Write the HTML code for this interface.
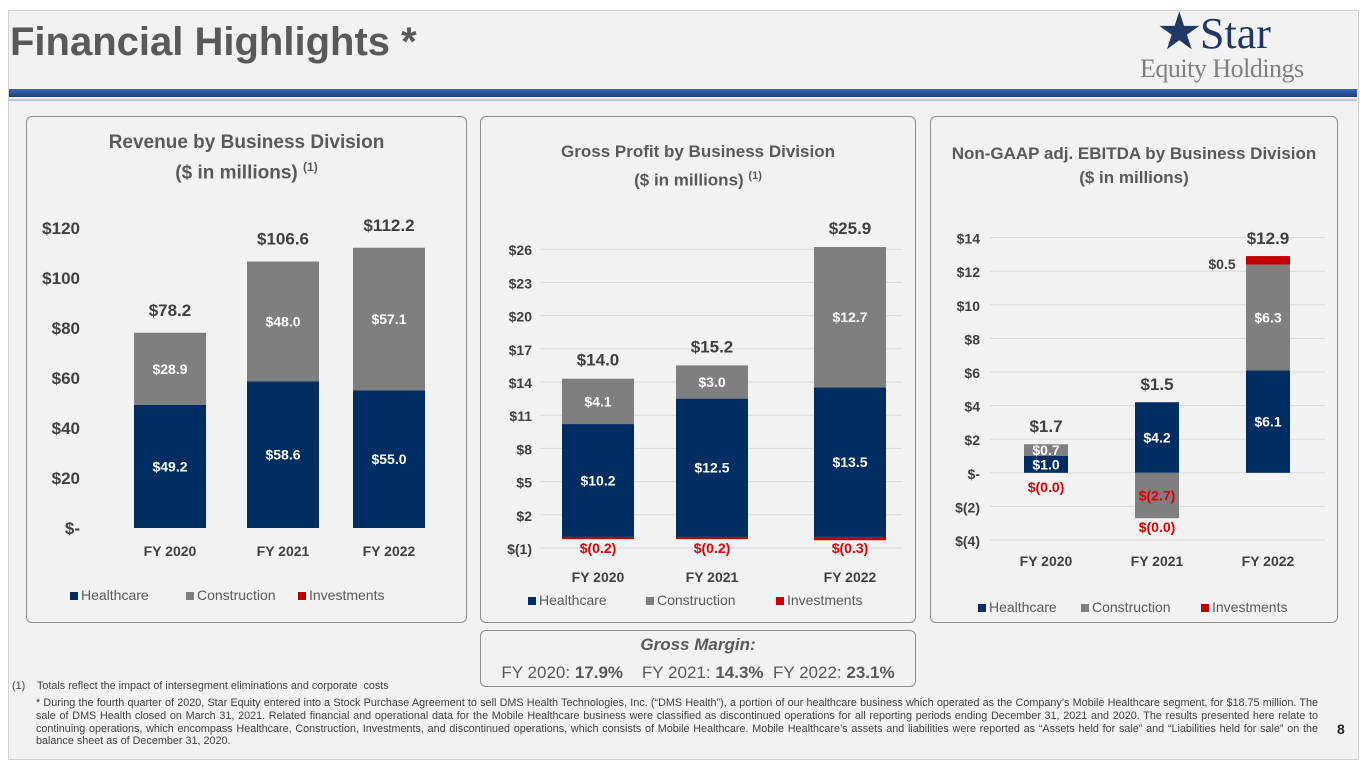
<!DOCTYPE html>
<html><head><meta charset="utf-8">
<style>
body{margin:0;width:1365px;height:768px;background:#fff;font-family:"Liberation Sans",sans-serif;overflow:hidden;position:relative}
#slide{position:absolute;left:8px;top:10px;width:1349px;height:748px;background:#f2f2f2;border:1px solid #d0d0d0}
.t{position:absolute;white-space:nowrap}
.panel{position:absolute;border:1.5px solid #8c8c8c;border-radius:6px;background:#f2f2f2}
.ptitle{position:absolute;width:100%;text-align:center;font-weight:bold;color:#595959;font-size:18px;line-height:24px}
svg{position:absolute;left:0;top:0}
.fn{position:absolute;font-family:"Liberation Sans Narrow","Liberation Sans",sans-serif;font-size:10.8px;color:#404040;line-height:12.8px}
</style></head><body>
<div id="slide"></div>
<div class="t" style="left:10px;top:20px;font-size:40px;font-weight:bold;color:#595959">Financial Highlights *</div>
<div style="position:absolute;left:1150px;top:14px;width:200px;height:70px">
  <div class="t" style="left:6px;top:-12px;font-size:52px;color:#1f3864">★</div>
  <div class="t" style="left:50px;top:-4px;font-family:'Liberation Serif',serif;font-size:44px;color:#1f3864;line-height:48px">Star</div>
  <div class="t" style="left:-10px;top:40px;font-family:'Liberation Serif',serif;font-size:26px;color:#808080;letter-spacing:-0.5px">Equity Holdings</div>
</div>
<div style="position:absolute;left:9px;top:89px;width:1348px;height:8px;background:linear-gradient(#3a64b0,#1f3f80)"></div>
<div style="position:absolute;left:9px;top:99px;width:1348px;height:2px;background:#b8c7dc"></div>

<div class="panel" style="left:26px;top:116px;width:439px;height:505px">
  <div class="ptitle" style="top:13px;font-size:19px;line-height:25px">Revenue by Business Division<br>($ in millions) <sup style="font-size:12px">(1)</sup></div>
</div>
<div class="panel" style="left:480px;top:116px;width:434px;height:505px">
  <div class="ptitle" style="top:23px;font-size:17px">Gross Profit by Business Division<br>($ in millions) <sup style="font-size:11px">(1)</sup></div>
</div>
<div class="panel" style="left:930px;top:116px;width:406px;height:505px">
  <div class="ptitle" style="top:25px;font-size:17px">Non-GAAP adj. EBITDA by Business Division<br>($ in millions)</div>
</div>
<div class="panel" style="left:480px;top:630px;width:434px;height:55px">
  <div class="t" style="left:0;width:434px;text-align:center;top:4px;font-size:17px;font-weight:bold;font-style:italic;color:#595959">Gross Margin:</div>
  <div class="t" style="left:0;width:434px;text-align:center;top:32px;font-size:17px;color:#595959">FY 2020: <b>17.9%</b>&nbsp;&nbsp;&nbsp; FY 2021: <b>14.3%</b>&nbsp; FY 2022: <b>23.1%</b></div>
</div>

<svg id="chart" width="1365" height="768"></svg>

<div class="fn" style="left:12px;top:680px">(1)&nbsp;&nbsp;&nbsp; Totals reflect the impact of intersegment eliminations and corporate&nbsp; costs</div>
<div class="fn" style="left:36px;top:697px;width:1282px;text-align:justify">* During the fourth quarter of 2020, Star Equity entered into a Stock Purchase Agreement to sell DMS Health Technologies, Inc. (“DMS Health”), a portion of our healthcare business which operated as the Company’s Mobile Healthcare segment, for $18.75 million. The sale of DMS Health closed on March 31, 2021. Related financial and operational data for the Mobile Healthcare business were classified as discontinued operations for all reporting periods ending December 31, 2021 and 2020. The results presented here relate to continuing operations, which encompass Healthcare, Construction, Investments, and discontinued operations, which consists of Mobile Healthcare. Mobile Healthcare’s assets and liabilities were reported as “Assets held for sale” and “Liabilities held for sale” on the balance sheet as of December 31, 2020.</div>
<div class="t" style="left:1337px;top:721px;font-size:14px;font-weight:bold;color:#262626">8</div>

<script>
const categories = ["FY 2020","FY 2021","FY 2022"];
const revHealth = [49.2,58.6,55.0];
const revConst = [28.9,48.0,57.1];
const revInv = [0,0,0];
const revTotals = ["$78.2","$106.6","$112.2"];
const revTicks = [0,20,40,60,80,100,120];
const revTickLabels = ["$-","$20","$40","$60","$80","$100","$120"];

const gpHealth = [10.2,12.5,13.5];
const gpConst = [4.1,3.0,12.7];
const gpInv = [-0.2,-0.2,-0.3];
const gpInvText = ["$(0.2)","$(0.2)","$(0.3)"];
const gpTotals = ["$14.0","$15.2","$25.9"];
const gpTicks = [-1,2,5,8,11,14,17,20,23,26];
const gpTickLabels = ["$(1)","$2","$5","$8","$11","$14","$17","$20","$23","$26"];

const ebHealth = [1.0,4.2,6.1];
const ebConst = [0.7,-2.7,6.3];
const ebInv = [0.0,0.0,0.5];
const ebInvText = ["$(0.0)","$(0.0)","$0.5"];
const ebTotals = ["$1.7","$1.5","$12.9"];
const ebTicks = [-4,-2,0,2,4,6,8,10,12,14];
const ebTickLabels = ["$(4)","$(2)","$-","$2","$4","$6","$8","$10","$12","$14"];

const NAVY="#002d62", GRAY="#7f7f7f", RED="#c00000", TXT="#404040";
const svg=document.getElementById('chart');
const NS="http://www.w3.org/2000/svg";
function mk(tag,attrs,name,text){
  const e=document.createElementNS(NS,tag);
  for(const k in attrs) e.setAttribute(k,attrs[k]);
  
  
  if(text!==undefined) e.textContent=text;
  svg.appendChild(e); return e;
}
function fmt(v){return v<0?"$("+Math.abs(v).toFixed(1)+")":"$"+v.toFixed(1);}

function drawChart(cfg){
  const y=v=>cfg.y0-(v-cfg.vmin)*cfg.ppu;
  cfg.ticks.forEach((t,i)=>{
    if(cfg.grid) mk('line',{x1:cfg.gx1,x2:cfg.gx2,y1:y(t),y2:y(t),stroke:'#d9d9d9','stroke-width':1},cfg.id+'-gridline');
    mk('text',{x:cfg.lx,y:y(t)+6,'text-anchor':'end','font-size':cfg.tfs,'font-weight':'bold',fill:TXT},cfg.id+'-y-tick',cfg.tickLabels[i]);
  });
  categories.forEach((c,i)=>{
    const cx=cfg.cx[i], w=cfg.bw, x=cx-w/2;
    const h=cfg.health[i], co=cfg.cons[i], inv=cfg.inv[i];
    mk('rect',{x:x,y:Math.min(y(0),y(h)),width:w,height:Math.abs(y(h)-y(0)),fill:NAVY},cfg.id+'-bar-healthcare');
    let base= co>=0 ? Math.max(h,0) : Math.min(h,0);
    mk('rect',{x:x,y:Math.min(y(base),y(base+co)),width:w,height:Math.abs(y(base+co)-y(base)),fill:GRAY},cfg.id+'-bar-construction');
    let top=Math.max(h,0)+Math.max(co,0);
    let bot=Math.min(h,0)+Math.min(co,0);
    if(inv>0){
      mk('rect',{x:x,y:y(top+inv),width:w,height:y(top)-y(top+inv),fill:RED},cfg.id+'-bar-investments');
    } else if(inv<0){
      mk('rect',{x:x,y:y(bot),width:w,height:Math.max(2,y(bot+inv)-y(bot)),fill:RED},cfg.id+'-bar-investments');
    }
    const fs=cfg.vfs;
    if(h!==0) mk('text',{x:cx,y:(y(0)+y(h))/2+fs*0.35,'text-anchor':'middle','font-size':fs,'font-weight':'bold',fill:'#fff'},cfg.id+'-label-healthcare',fmt(h));
    if(co!==0) mk('text',{x:cx,y:(y(base)+y(base+co))/2+fs*0.35,'text-anchor':'middle','font-size':fs,'font-weight':'bold',fill:co<0?'#e00000':'#fff'},cfg.id+'-label-construction',fmt(co));
    if(cfg.invLabels){
      const il=cfg.invLabels[i];
      mk('text',{x:il[0]??cx,y:il[1],'text-anchor':'middle','font-size':fs,'font-weight':'bold',fill:il[2]||'#e00000'},cfg.id+'-label-investments',cfg.invText[i]);
    }
    mk('text',{x:cx,y:y(cfg.totalsAt(i))-cfg.totOff,'text-anchor':'middle','font-size':cfg.totfs,'font-weight':'bold',fill:TXT},cfg.id+'-total-label',cfg.totals[i]);
    mk('text',{x:cx,y:cfg.catY,'text-anchor':'middle','font-size':14,'font-weight':'bold',fill:TXT},cfg.id+'-x-label',c);
  });
  const items=[["Healthcare",NAVY],["Construction",GRAY],["Investments",RED]];
  let lx=cfg.legX;
  items.forEach((it,k)=>{
    mk('rect',{x:lx,y:cfg.legY-8,width:8,height:8,fill:it[1]},cfg.id+'-legend-swatch');
    mk('text',{x:lx+11,y:cfg.legY,'font-size':14,fill:'#595959'},cfg.id+'-legend-entry',it[0]);
    lx+=cfg.legGap[k];
  });
}

drawChart({id:'revenue',ticks:revTicks,tickLabels:revTickLabels,vmin:0,y0:528,ppu:2.5,grid:false,lx:80,tfs:17,
  cx:[170,283,389],bw:72,health:revHealth,cons:revConst,inv:revInv,totals:revTotals,vfs:14,totfs:17,totOff:17,
  totalsAt:i=>revHealth[i]+revConst[i],catY:556,legX:70,legY:600,legGap:[116,112]});

drawChart({id:'gross-profit',ticks:gpTicks,tickLabels:gpTickLabels,vmin:-1,y0:548,ppu:33.2/3,grid:true,gx1:540,gx2:902,lx:532,tfs:14,
  cx:[598,712,850],bw:72,health:gpHealth,cons:gpConst,inv:gpInv,totals:gpTotals,vfs:14,totfs:17,totOff:13,
  totalsAt:i=>gpHealth[i]+gpConst[i],catY:582,legX:528,legY:605,legGap:[118,130],
  invText:gpInvText,invLabels:[[598,553],[712,553],[850,553]]});

drawChart({id:'ebitda',ticks:ebTicks,tickLabels:ebTickLabels,vmin:-4,y0:540,ppu:16.8,grid:true,gx1:990,gx2:1325,lx:980,tfs:14,
  cx:[1046,1157,1268],bw:44,health:ebHealth,cons:ebConst,inv:ebInv,totals:ebTotals,vfs:14,totfs:17,totOff:12,
  totalsAt:i=>Math.max(ebHealth[i],0)+Math.max(ebConst[i],0)+Math.max(ebInv[i],0),catY:566,legX:978,legY:612,legGap:[103,120],
  invText:ebInvText,invLabels:[[1046,492],[1157,532],[1222,269,'#404040']]});
</script>
</body></html>
